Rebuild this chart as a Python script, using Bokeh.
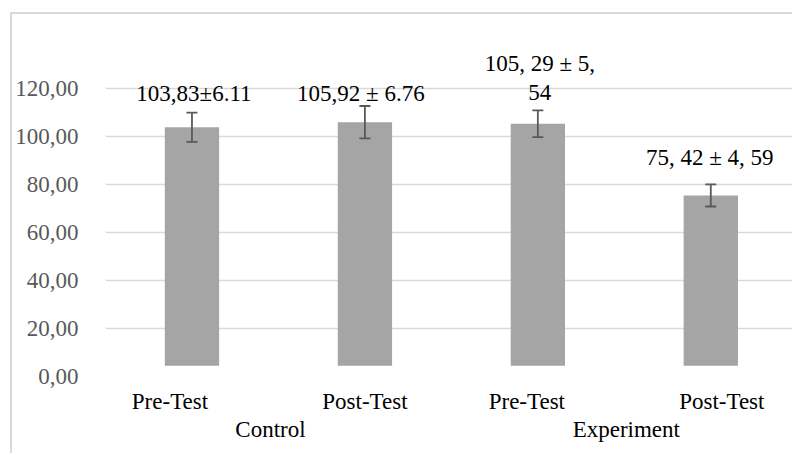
from bokeh.plotting import figure
from bokeh.models import (ColumnDataSource, Range1d, FixedTicker,
                          Whisker, TeeHead, LabelSet)
from bokeh.core.properties import value
from bokeh.embed import file_html
from bokeh.resources import INLINE

# ---- data ----
groups = ["Control", "Control", "Experiment", "Experiment"]
tests = ["Pre-Test", "Post-Test", "Pre-Test", "Post-Test"]
means = [103.83, 105.92, 105.29, 75.42]
sds = [6.11, 6.76, 5.54, 4.59]
value_labels = ["103,83\u00b16.11", "105,92 \u00b1 6.76", "105, 29 \u00b1 5,\n54", "75, 42 \u00b1 4, 59"]
group_names = ["Control", "Experiment"]
y_ticks = [0, 20, 40, 60, 80, 100, 120]
y_tick_labels = ["0,00", "20,00", "40,00", "60,00", "80,00", "100,00", "120,00"]

# ---- styling / layout (not data) ----
bar_base = 4.5
bar_width = 0.314
label_dy = [19, 13, 18, 27]      # px above error-bar top (last line)
label_dx = [2, -4, 2, -1]
line_gap = 29
sub_dx = [-22, 0, -11, 11]
grp_dx = [-8, 2]
FONT = "Liberation Serif"
FS = "23px"

# category positions on the x scale (one unit per category)
xpos = [i + 0.5 for i in range(len(tests))]
upper = [m + s for m, s in zip(means, sds)]
lower = [m - s for m, s in zip(means, sds)]
src = ColumnDataSource(dict(x=xpos, top=means, upper=upper, lower=lower))

# value labels (one row per text line)
lx, ly, lt, ldx, ldy = [], [], [], [], []
for i, txt in enumerate(value_labels):
    lines = txt.split("\n")
    n = len(lines)
    for j, line in enumerate(lines):
        lx.append(xpos[i]); ly.append(upper[i]); lt.append(line)
        ldx.append(label_dx[i]); ldy.append(label_dy[i] + (n - 1 - j) * line_gap)
lab_src = ColumnDataSource(dict(x=lx, y=ly, t=lt, dx=ldx, dy=ldy))

sub_src = ColumnDataSource(dict(x=xpos, y=[0] * len(xpos), t=tests, dx=sub_dx))
gx = []
for g in group_names:
    members = [xpos[i] for i in range(len(groups)) if groups[i] == g]
    gx.append(sum(members) / len(members))
grp_src = ColumnDataSource(dict(x=gx, y=[0] * len(gx), t=group_names, dx=grp_dx))

p = figure(width=782, height=441, x_range=Range1d(0, 3.984), y_range=Range1d(-32.9, 148.3),
           output_backend="svg", toolbar_location=None,
           min_border_left=89, min_border_right=0, min_border_top=6, min_border_bottom=0)
p.margin = (12, 0, 0, 10)
p.styles = {"border-left": "2px solid #d9d9d9", "border-top": "2px solid #d9d9d9"}
p.outline_line_color = None
p.background_fill_color = "white"
p.border_fill_color = "white"

p.vbar(x="x", top="top", bottom=bar_base, width=bar_width, source=src,
       fill_color="#a5a5a5", line_color=None)

w = Whisker(base="x", upper="upper", lower="lower", source=src, level="overlay",
            line_color="#595959", line_width=1.8,
            upper_head=TeeHead(size=11, line_color="#595959", line_width=1.8),
            lower_head=TeeHead(size=11, line_color="#595959", line_width=1.8))
p.add_layout(w)

common = dict(text_font=value(FONT), text_font_size=value(FS), text_color="black",
              text_align="center", text_baseline="middle")
p.add_layout(LabelSet(x="x", y="y", text="t", source=lab_src, x_offset="dx", y_offset="dy", **common))
p.add_layout(LabelSet(x="x", y="y", text="t", source=sub_src, x_offset="dx", y_offset=-25, **common))
p.add_layout(LabelSet(x="x", y="y", text="t", source=grp_src, x_offset="dx", y_offset=-53, **common))

# y axis
p.yaxis.ticker = FixedTicker(ticks=y_ticks)
p.yaxis.major_label_overrides = {t: l for t, l in zip(y_ticks, y_tick_labels)}
p.yaxis.major_label_text_font = FONT
p.yaxis.major_label_text_font_size = FS
p.yaxis.major_label_text_color = "#595959"
p.yaxis.major_label_standoff = 21
p.yaxis.axis_line_color = None
p.yaxis.major_tick_line_color = None
p.yaxis.minor_tick_line_color = None

p.ygrid.ticker = FixedTicker(ticks=y_ticks[1:])
p.ygrid.grid_line_color = "#d9d9d9"
p.ygrid.grid_line_width = 1.3
p.xgrid.grid_line_color = None
p.xaxis.visible = False

open("out.html", "w").write(file_html(p, INLINE))
